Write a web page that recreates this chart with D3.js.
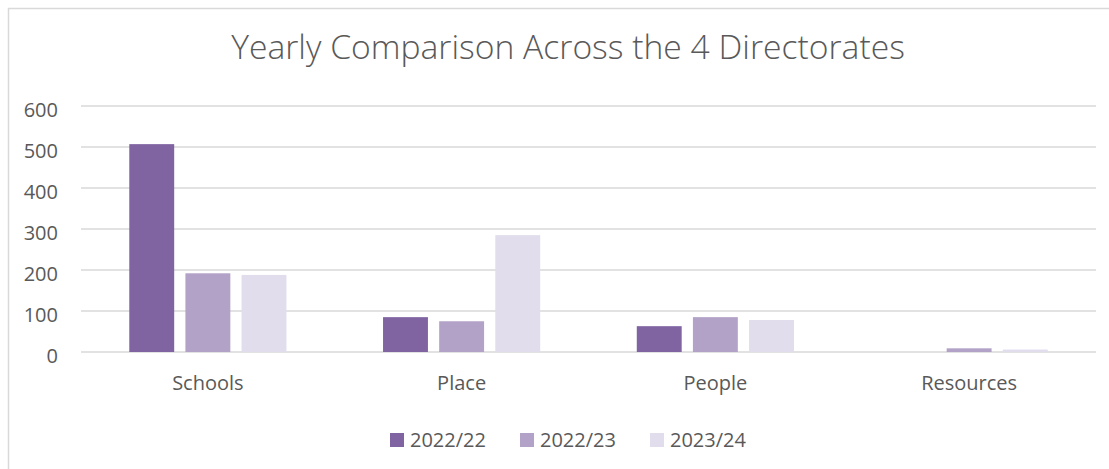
<!DOCTYPE html>
<head>
    <meta charset="utf-8">
    <script src="https://cdn.jsdelivr.net/npm/d3@7"></script>
    <style>
        body { margin: 0; background: white; }
        text { font-family: "Open Sans", sans-serif; fill: #595959; }
    </style>
</head>

<body>
<script>

    var categories = ["Schools", "Place", "People", "Resources"];
    var series = ["2022/22", "2022/23", "2023/24"];
    var colors = ["#8064a2", "#b3a2c7", "#e1dded"];
    var yTicks = [0, 100, 200, 300, 400, 500, 600];

    var values2022_22 = [507, 85, 63, 0];
    var values2022_23 = [192, 75, 85, 9];
    var values2023_24 = [188, 285, 78, 6];
    var seriesValues = [values2022_22, values2022_23, values2023_24];

    var svg = d3.select("body").append("svg")
        .attr("width", 1109)
        .attr("height", 469);

    // chart frame, runs off the right and bottom edge like the screenshot
    svg.append("rect")
        .attr("x", 8.5)
        .attr("y", 8.5)
        .attr("width", 1130)
        .attr("height", 500)
        .style("fill", "white")
        .style("stroke", "#d9d9d9")
        .style("stroke-width", 1.5);

    // plot area (note: "top" is taken by window.top)
    var plotLeft = 81, plotRight = 1096, plotTop = 106, plotBottom = 352;

    var x0 = d3.scaleBand().domain(categories).range([plotLeft, plotRight]);
    var x1 = d3.scaleBand().domain(series).range([0, x0.bandwidth()])
        .paddingInner(0.2).paddingOuter(0.86);
    var y = d3.scaleLinear().domain([0, 600]).range([plotBottom, plotTop]);

    // title, sized to the width it takes in the picture
    var title = svg.append("text")
        .text("Yearly Comparison Across the 4 Directorates")
        .attr("x", 568)
        .attr("y", 59)
        .style("text-anchor", "middle")
        .style("font-size", 28)
        .style("font-weight", 300);
    var tw = title.node().getComputedTextLength();
    title.style("font-size", 28 * 674 / tw);

    // gridlines
    svg.append("g").selectAll("line").data(yTicks).enter().append("line")
        .attr("x1", plotLeft)
        .attr("x2", plotRight)
        .attr("y1", function(d) { return y(d); })
        .attr("y2", function(d) { return y(d); })
        .style("stroke", "#d9d9d9")
        .style("stroke-width", 1.5);

    // y axis labels
    svg.append("g").selectAll("text").data(yTicks).enter().append("text")
        .text(function(d) { return d; })
        .attr("x", 58)
        .attr("y", function(d) { return y(d) + 11; })
        .style("text-anchor", "end")
        .style("font-size", 20);

    // bars
    var groups = svg.append("g").selectAll("g").data(categories).enter().append("g")
        .attr("transform", function(d) { return "translate(" + x0(d) + ",0)"; });

    groups.selectAll("rect")
        .data(function(d, i) {
            return series.map(function(s, j) { return { s: s, v: seriesValues[j][i], c: colors[j] }; });
        })
        .enter().append("rect")
        .attr("x", function(d) { return x1(d.s); })
        .attr("width", x1.bandwidth())
        .attr("y", function(d) { return y(d.v); })
        .attr("height", function(d) { return y(0) - y(d.v); })
        .style("fill", function(d) { return d.c; });

    // category labels
    svg.append("g").selectAll("text").data(categories).enter().append("text")
        .text(function(d) { return d; })
        .attr("x", function(d) { return x0(d) + x0.bandwidth() / 2; })
        .attr("y", 390)
        .style("text-anchor", "middle")
        .style("font-size", 20);

    // legend
    var legend = svg.append("g").selectAll("g").data(series).enter().append("g")
        .attr("transform", function(d, i) { return "translate(" + (390 + i * 130) + ",433)"; });
    legend.append("rect")
        .attr("width", 14)
        .attr("height", 14)
        .style("fill", function(d, i) { return colors[i]; });
    legend.append("text")
        .text(function(d) { return d; })
        .attr("x", 20)
        .attr("y", 14)
        .style("font-size", 20);

</script>
</body>
